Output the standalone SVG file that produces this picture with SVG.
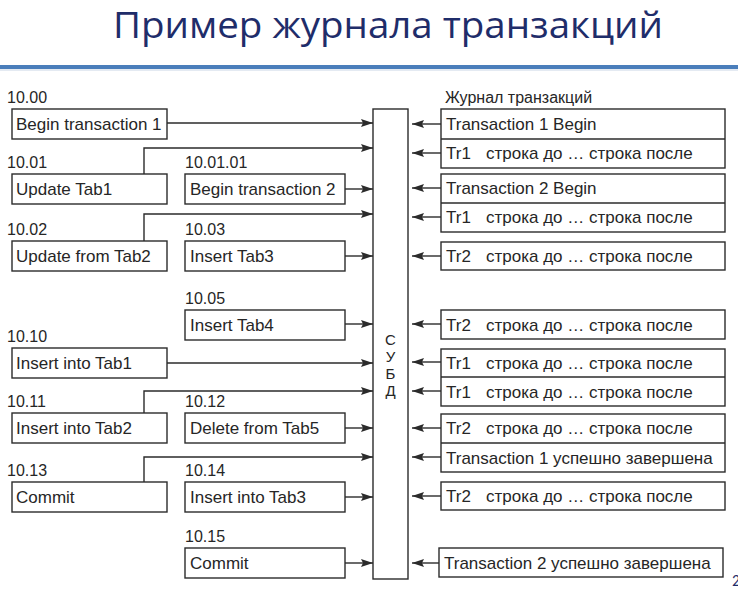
<svg xmlns="http://www.w3.org/2000/svg" width="738" height="603" viewBox="0 0 738 603">
  <style>
    .box { fill: #ffffff; stroke: #2b2b2b; stroke-width: 1.4; }
    .div { stroke: #2b2b2b; stroke-width: 1.4; }
    .t { font-family: "Liberation Sans", Arial, sans-serif; font-size: 17px; fill: #262626; }
    .lbl { font-family: "Liberation Sans", Arial, sans-serif; font-size: 16px; fill: #262626; }
    .dbms { font-family: "Liberation Sans", Arial, sans-serif; font-size: 15px; fill: #262626; }
    .ln { fill: none; stroke: #2b2b2b; stroke-width: 1.4; }
    .title { font-family: "Open Sans", "Noto Sans", sans-serif; font-size: 36px; fill: #1f2d6a; }
  </style>
  <defs>
    <marker id="ah" viewBox="0 0 12 8" refX="12" refY="4" markerWidth="12" markerHeight="8" markerUnits="userSpaceOnUse" orient="auto">
      <path d="M0,0 L12,4 L0,8 L2,4 z" fill="#2b2b2b"/>
    </marker>
  </defs>

  <rect width="738" height="603" fill="#ffffff"/>

  <!-- heading and rule -->
  <g id="heading">
    <text class="title" x="113" y="38" textLength="550" lengthAdjust="spacingAndGlyphs">Пример журнала транзакций</text>
    <line x1="0" y1="67" x2="738" y2="67" stroke="#4a7ebb" stroke-width="4"/>
    <line x1="0" y1="70" x2="738" y2="70" stroke="#c9d6e6" stroke-width="1"/>
  </g>

  <!-- time labels -->
  <g id="times">
    <text class="lbl" x="7" y="103">10.00</text>
    <text class="lbl" x="7" y="168">10.01</text>
    <text class="lbl" x="185" y="168">10.01.01</text>
    <text class="lbl" x="7" y="235">10.02</text>
    <text class="lbl" x="185" y="235">10.03</text>
    <text class="lbl" x="185" y="304">10.05</text>
    <text class="lbl" x="7" y="342">10.10</text>
    <text class="lbl" x="7" y="407">10.11</text>
    <text class="lbl" x="185" y="407">10.12</text>
    <text class="lbl" x="7" y="476">10.13</text>
    <text class="lbl" x="185" y="476">10.14</text>
    <text class="lbl" x="185" y="542">10.15</text>
  </g>

  <!-- operations, left column -->
  <g id="op-begin1"><rect class="box" x="12" y="109" width="155" height="30"/><text class="t" x="16" y="130">Begin transaction 1</text></g>
  <g id="op-update-tab1"><rect class="box" x="12" y="174" width="155" height="30"/><text class="t" x="16" y="195">Update Tab1</text></g>
  <g id="op-update-tab2"><rect class="box" x="12" y="241" width="155" height="30"/><text class="t" x="16" y="262">Update from Tab2</text></g>
  <g id="op-insert-tab1"><rect class="box" x="12" y="348" width="155" height="30"/><text class="t" x="16" y="369">Insert into Tab1</text></g>
  <g id="op-insert-tab2"><rect class="box" x="12" y="413" width="155" height="30"/><text class="t" x="16" y="434">Insert into Tab2</text></g>
  <g id="op-commit1"><rect class="box" x="12" y="482" width="155" height="30"/><text class="t" x="16" y="503">Commit</text></g>

  <!-- operations, middle column -->
  <g id="op-begin2"><rect class="box" x="185" y="174" width="160" height="30"/><text class="t" x="190" y="195">Begin transaction 2</text></g>
  <g id="op-insert-tab3"><rect class="box" x="185" y="241" width="160" height="30"/><text class="t" x="190" y="262">Insert Tab3</text></g>
  <g id="op-insert-tab4"><rect class="box" x="185" y="310" width="160" height="30"/><text class="t" x="190" y="331">Insert Tab4</text></g>
  <g id="op-delete-tab5"><rect class="box" x="185" y="413" width="160" height="30"/><text class="t" x="190" y="434">Delete from Tab5</text></g>
  <g id="op-insert-into-tab3"><rect class="box" x="185" y="482" width="160" height="30"/><text class="t" x="190" y="503">Insert into Tab3</text></g>
  <g id="op-commit2"><rect class="box" x="185" y="548" width="160" height="30"/><text class="t" x="190" y="569">Commit</text></g>

  <!-- DBMS -->
  <g id="dbms">
    <rect class="box" x="373" y="109" width="35" height="470"/>
    <text class="dbms" text-anchor="middle"><tspan x="390.5" y="345">С</tspan><tspan x="390.5" y="362">У</tspan><tspan x="390.5" y="379">Б</tspan><tspan x="390.5" y="396">Д</tspan></text>
  </g>

  <!-- transaction log -->
  <g id="log">
    <text class="lbl" x="445" y="103">Журнал транзакций</text>
    <g id="log-1">
      <rect class="box" x="441" y="109" width="284" height="59"/>
      <line class="div" x1="441" y1="139" x2="725" y2="139"/>
      <text class="t" x="446" y="130">Transaction 1 Begin</text>
      <text class="t" x="446" y="159">Tr1<tspan x="486">строка до … строка после</tspan></text>
    </g>
    <g id="log-2">
      <rect class="box" x="441" y="174" width="284" height="58"/>
      <line class="div" x1="441" y1="203" x2="725" y2="203"/>
      <text class="t" x="446" y="194">Transaction 2 Begin</text>
      <text class="t" x="446" y="223">Tr1<tspan x="486">строка до … строка после</tspan></text>
    </g>
    <g id="log-3">
      <rect class="box" x="441" y="242" width="284" height="28"/>
      <text class="t" x="446" y="262">Tr2<tspan x="486">строка до … строка после</tspan></text>
    </g>
    <g id="log-4">
      <rect class="box" x="441" y="310" width="284" height="29"/>
      <text class="t" x="446" y="331">Tr2<tspan x="486">строка до … строка после</tspan></text>
    </g>
    <g id="log-5">
      <rect class="box" x="441" y="349" width="284" height="57"/>
      <line class="div" x1="441" y1="377" x2="725" y2="377"/>
      <text class="t" x="446" y="369">Tr1<tspan x="486">строка до … строка после</tspan></text>
      <text class="t" x="446" y="398">Tr1<tspan x="486">строка до … строка после</tspan></text>
    </g>
    <g id="log-6">
      <rect class="box" x="441" y="414" width="284" height="58"/>
      <line class="div" x1="441" y1="443" x2="725" y2="443"/>
      <text class="t" x="446" y="434">Tr2<tspan x="486">строка до … строка после</tspan></text>
      <text class="t" x="446" y="464">Transaction 1 успешно завершена</text>
    </g>
    <g id="log-7">
      <rect class="box" x="441" y="482" width="284" height="28"/>
      <text class="t" x="446" y="502">Tr2<tspan x="486">строка до … строка после</tspan></text>
    </g>
    <g id="log-8">
      <rect class="box" x="439" y="548" width="284" height="29"/>
      <text class="t" x="444" y="569">Transaction 2 успешно завершена</text>
    </g>
  </g>

  <!-- connectors -->
  <g id="connectors" class="ln">
    <!-- operations to DBMS -->
    <path class="ln" d="M167,123 H373" marker-end="url(#ah)"/>
    <path class="ln" d="M144,174 V148 H373" marker-end="url(#ah)"/>
    <path class="ln" d="M345,189 H373" marker-end="url(#ah)"/>
    <path class="ln" d="M144,241 V214 H373" marker-end="url(#ah)"/>
    <path class="ln" d="M345,256 H373" marker-end="url(#ah)"/>
    <path class="ln" d="M345,324 H373" marker-end="url(#ah)"/>
    <path class="ln" d="M167,363 H373" marker-end="url(#ah)"/>
    <path class="ln" d="M144,413 V391 H373" marker-end="url(#ah)"/>
    <path class="ln" d="M345,428 H373" marker-end="url(#ah)"/>
    <path class="ln" d="M144,482 V457 H373" marker-end="url(#ah)"/>
    <path class="ln" d="M345,497 H373" marker-end="url(#ah)"/>
    <path class="ln" d="M345,563 H373" marker-end="url(#ah)"/>
    <!-- log records from DBMS -->
    <path class="ln" d="M441,124 H412" marker-end="url(#ah)"/>
    <path class="ln" d="M441,153 H412" marker-end="url(#ah)"/>
    <path class="ln" d="M441,188 H412" marker-end="url(#ah)"/>
    <path class="ln" d="M441,217 H412" marker-end="url(#ah)"/>
    <path class="ln" d="M441,256 H412" marker-end="url(#ah)"/>
    <path class="ln" d="M441,324 H412" marker-end="url(#ah)"/>
    <path class="ln" d="M441,362 H412" marker-end="url(#ah)"/>
    <path class="ln" d="M441,391 H412" marker-end="url(#ah)"/>
    <path class="ln" d="M441,428 H412" marker-end="url(#ah)"/>
    <path class="ln" d="M441,457 H412" marker-end="url(#ah)"/>
    <path class="ln" d="M441,496 H412" marker-end="url(#ah)"/>
    <path class="ln" d="M439,563 H412" marker-end="url(#ah)"/>
  </g>

  <!-- page number -->
  <text x="732" y="586" font-family="Calibri, 'Open Sans', sans-serif" font-size="16" fill="#1f2d6a">2</text>
</svg>
